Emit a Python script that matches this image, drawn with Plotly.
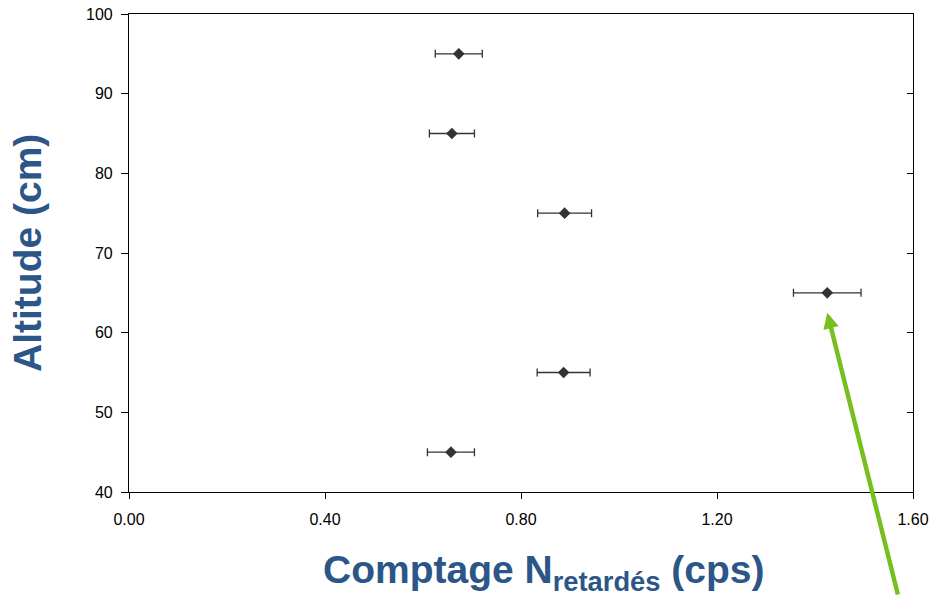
import plotly.graph_objects as go

# Delayed-neutron count rate measured at several heights
altitudes = [95, 85, 75, 65, 55, 45]
counts = [0.673, 0.659, 0.889, 1.425, 0.887, 0.657]
count_err = [0.048, 0.046, 0.055, 0.069, 0.054, 0.048]

x_ticks = [0.0, 0.4, 0.8, 1.2, 1.6]
x_tick_text = ["0.00", "0.40", "0.80", "1.20", "1.60"]
y_ticks = [40, 50, 60, 70, 80, 90, 100]

TITLE_BLUE = "#2b5687"
ARROW_GREEN = "#77bf1f"
MARK = "#333333"
TITLE_FONT = dict(family="Liberation Sans, Arial, sans-serif", size=39, color=TITLE_BLUE)

fig = go.Figure()

fig.add_trace(go.Scatter(
    x=counts, y=altitudes, mode="markers",
    marker=dict(symbol="diamond", size=9, color=MARK),
    error_x=dict(type="data", array=count_err, visible=True,
                 color=MARK, thickness=1.3, width=4),
    showlegend=False,
))

# companion axis on the right, carrying inward ticks only
fig.add_trace(go.Scatter(
    x=counts, y=altitudes, yaxis="y2", mode="markers",
    marker=dict(opacity=0), showlegend=False, hoverinfo="skip",
))

axis_font = dict(family="Liberation Sans, Arial, sans-serif", size=16, color="black")

fig.update_layout(
    width=932, height=596, autosize=False,
    margin=dict(l=129, r=19, t=14, b=104, autoexpand=False),
    paper_bgcolor="white", plot_bgcolor="white",
    xaxis=dict(
        range=[0, 1.6], tickvals=x_ticks, ticktext=x_tick_text,
        ticks="outside", ticklen=6, tickwidth=1, tickcolor="black",
        showline=True, linecolor="black", linewidth=1.2, mirror=True,
        showgrid=False, zeroline=False, tickfont=axis_font,
        ticklabelstandoff=7, automargin=False,
    ),
    yaxis=dict(
        range=[40, 100], tickvals=y_ticks,
        ticks="outside", ticklen=7, tickwidth=1, tickcolor="black",
        showline=True, linecolor="black", linewidth=1.2,
        showgrid=False, zeroline=False, tickfont=axis_font,
        ticklabelstandoff=5, automargin=False,
    ),
    yaxis2=dict(
        range=[40, 100], tickvals=y_ticks, overlaying="y", side="right",
        ticks="inside", ticklen=6, tickwidth=1, tickcolor="black",
        showticklabels=False, showline=True, linecolor="black", linewidth=1.2,
        showgrid=False, zeroline=False, automargin=False,
    ),
    annotations=[
        dict(
            text="<b>Altitude (cm)</b>",
            xref="paper", yref="paper", x=0, y=0.5,
            xanchor="center", yanchor="middle", xshift=-102,
            textangle=-90, showarrow=False, font=TITLE_FONT,
        ),
        dict(
            text="<b>Comptage N<sub>retardés</sub> (cps)</b>",
            xref="paper", yref="paper", x=0.529, y=0,
            xanchor="center", yanchor="top", yshift=-54,
            showarrow=False, font=TITLE_FONT,
        ),
        dict(
            text="", x=counts[3], y=62.5, xref="x", yref="y",
            showarrow=True, ax=71, ay=300,
            arrowcolor=ARROW_GREEN, arrowwidth=4.5, arrowhead=2,
            arrowsize=0.7,
        ),
    ],
)

fig.write_html("out.html")
